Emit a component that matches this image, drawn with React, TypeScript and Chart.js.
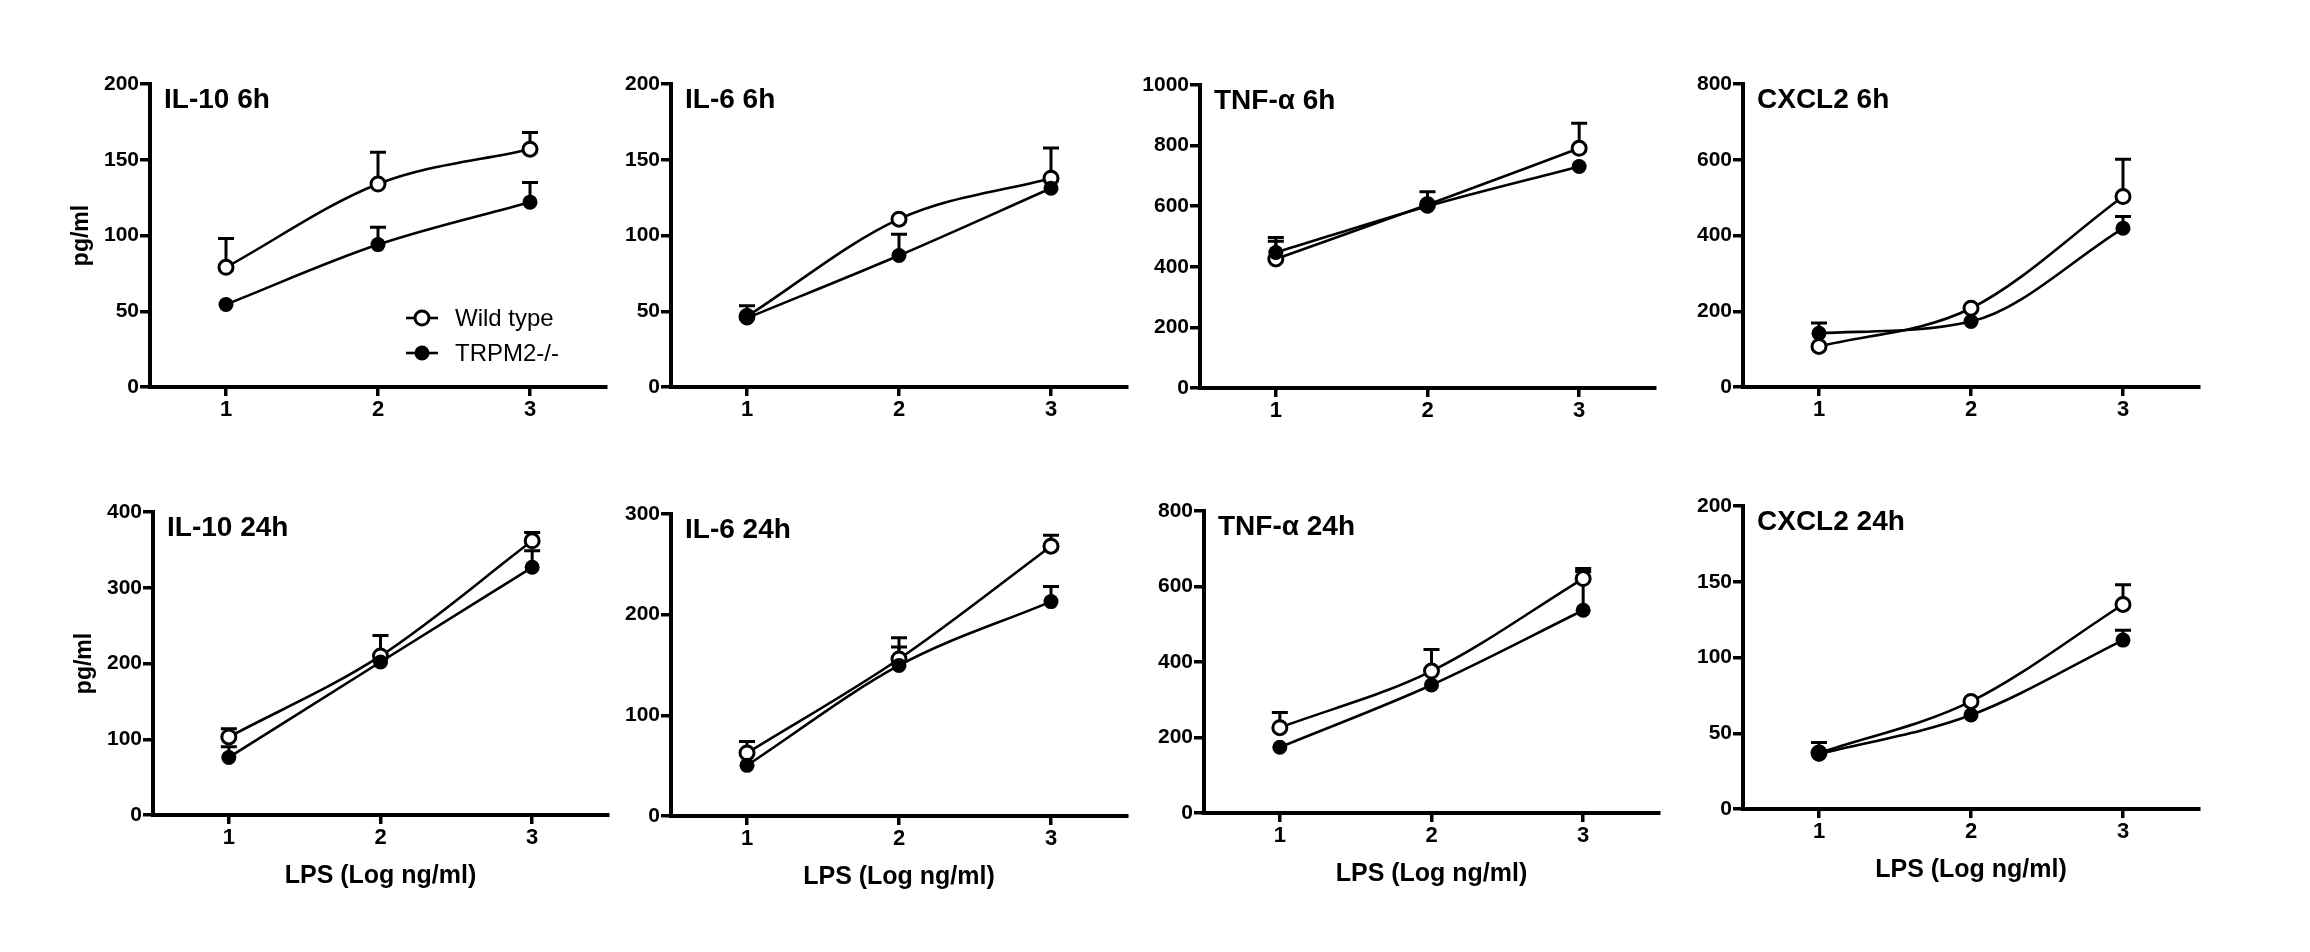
import React, { useEffect, useRef } from "react";
import { Chart, registerables } from "chart.js";

Chart.register(...registerables);

const FONT = "'Liberation Sans', Arial, Helvetica, sans-serif";

// LPS dose (log ng/ml)
const doses = [1, 2, 3];
const seriesNames = ["Wild type", "TRPM2-/-"];
const panelTitles = [
  "IL-10 6h", "IL-6 6h", "TNF-α 6h", "CXCL2 6h",
  "IL-10 24h", "IL-6 24h", "TNF-α 24h", "CXCL2 24h",
];
const yAxisTitle = "pg/ml";
const xAxisTitle = "LPS (Log ng/ml)";
const yMaxes = [200, 200, 1000, 800, 400, 300, 800, 200];
const ySteps = [50, 50, 200, 200, 100, 100, 200, 50];

// Wild type means and upper error (SEM)
const il10_6h_wt = [79, 134, 157];
const il10_6h_wtErr = [19, 21, 11];
const il6_6h_wt = [46.6, 110.8, 137.8];
const il6_6h_wtErr = [7, 3, 20];
const tnf_6h_wt = [426, 605, 791];
const tnf_6h_wtErr = [58, 10, 83];
const cxcl2_6h_wt = [107, 208, 503];
const cxcl2_6h_wtErr = [8, 8, 98];
const il10_24h_wt = [103, 210, 362];
const il10_24h_wtErr = [11, 27, 11];
const il6_24h_wt = [62.6, 156, 268];
const il6_24h_wtErr = [11.4, 21, 11];
const tnf_24h_wt = [226, 376, 621];
const tnf_24h_wtErr = [40, 57, 27];
const cxcl2_24h_wt = [36.9, 71, 135];
const cxcl2_24h_wtErr = [7, 4, 13];

// TRPM2-/- means and upper error (SEM)
const il10_6h_ko = [54.5, 94, 122];
const il10_6h_koErr = [2, 11.5, 13];
const il6_6h_ko = [45.5, 86.8, 131.2];
const il6_6h_koErr = [3, 14, 3];
const tnf_6h_ko = [447, 600, 731];
const tnf_6h_koErr = [50, 48, 10];
const cxcl2_6h_ko = [142, 173, 419];
const cxcl2_6h_koErr = [27, 8, 31];
const il10_24h_ko = [76, 202, 327];
const il10_24h_koErr = [14, 5, 22];
const il6_24h_ko = [50.3, 149.6, 213];
const il6_24h_koErr = [4, 18.4, 15];
const tnf_24h_ko = [174, 339, 537];
const tnf_24h_koErr = [8, 10, 103];
const cxcl2_24h_ko = [36.2, 62, 111.5];
const cxcl2_24h_koErr = [2, 2, 6.5];

const wtSeries = [il10_6h_wt, il6_6h_wt, tnf_6h_wt, cxcl2_6h_wt, il10_24h_wt, il6_24h_wt, tnf_24h_wt, cxcl2_24h_wt];
const wtErrors = [il10_6h_wtErr, il6_6h_wtErr, tnf_6h_wtErr, cxcl2_6h_wtErr, il10_24h_wtErr, il6_24h_wtErr, tnf_24h_wtErr, cxcl2_24h_wtErr];
const koSeries = [il10_6h_ko, il6_6h_ko, tnf_6h_ko, cxcl2_6h_ko, il10_24h_ko, il6_24h_ko, tnf_24h_ko, cxcl2_24h_ko];
const koErrors = [il10_6h_koErr, il6_6h_koErr, tnf_6h_koErr, cxcl2_6h_koErr, il10_24h_koErr, il6_24h_koErr, tnf_24h_koErr, cxcl2_24h_koErr];

// layout: plot-area boxes on the page (left, top, width, height)
const boxes = [
  { l: 150, t: 84, w: 456, h: 303 },
  { l: 671, t: 84, w: 456, h: 303 },
  { l: 1200, t: 85, w: 455, h: 303 },
  { l: 1743, t: 84, w: 456, h: 303 },
  { l: 153, t: 512, w: 455, h: 303 },
  { l: 671, t: 514, w: 456, h: 302 },
  { l: 1204, t: 511, w: 455, h: 302 },
  { l: 1743, t: 506, w: 456, h: 303 },
];

const PADL = 120;
const PADT = 30;
const PADR = 20;
const PADB = 100;

function drawMarker(ctx: CanvasRenderingContext2D, x: number, y: number, open: boolean) {
  ctx.beginPath();
  ctx.arc(x, y, open ? 7 : 7.5, 0, Math.PI * 2);
  if (open) {
    ctx.fillStyle = "#fff";
    ctx.fill();
    ctx.lineWidth = 3;
    ctx.strokeStyle = "#000";
    ctx.stroke();
  } else {
    ctx.fillStyle = "#000";
    ctx.fill();
  }
}

function makeDecor(idx: number) {
  return {
    id: "panelDecor" + idx,
    beforeDatasetsDraw(chart: any) {
      const ctx = chart.ctx as CanvasRenderingContext2D;
      const ys = chart.scales.y;
      ctx.save();
      ctx.strokeStyle = "#000";
      ctx.lineWidth = 3;
      ctx.lineCap = "butt";
      chart.data.datasets.forEach((ds: any, di: number) => {
        const meta = chart.getDatasetMeta(di);
        meta.data.forEach((pt: any, j: number) => {
          const v = ds.data[j].y;
          const e = ds.errors[j];
          const y0 = pt.y;
          const y1 = ys.getPixelForValue(v + e);
          if (y0 - y1 < 7.5) return;
          ctx.beginPath();
          ctx.moveTo(pt.x, y0);
          ctx.lineTo(pt.x, y1);
          ctx.moveTo(pt.x - 8, y1);
          ctx.lineTo(pt.x + 8, y1);
          ctx.stroke();
        });
      });
      ctx.restore();
    },
    afterDraw(chart: any) {
      const ctx = chart.ctx as CanvasRenderingContext2D;
      const a = chart.chartArea;
      ctx.save();
      ctx.fillStyle = "#000";
      ctx.font = `bold 28px ${FONT}`;
      ctx.textAlign = "left";
      ctx.textBaseline = "alphabetic";
      ctx.fillText(panelTitles[idx], a.left + 14, a.top + 24);

      if (idx % 4 === 0) {
        ctx.save();
        ctx.translate(a.left - 68, (a.top + a.bottom) / 2);
        ctx.rotate(-Math.PI / 2);
        ctx.font = `bold 23px ${FONT}`;
        ctx.textAlign = "center";
        ctx.textBaseline = "middle";
        ctx.fillText(yAxisTitle, 0, 0);
        ctx.restore();
      }
      if (idx >= 4) {
        ctx.font = `bold 25px ${FONT}`;
        ctx.textAlign = "center";
        ctx.textBaseline = "alphabetic";
        ctx.fillText(xAxisTitle, (a.left + a.right) / 2, a.bottom + 68);
      }
      if (idx === 0) {
        const rows = [
          { y: a.top + 234, open: true, name: seriesNames[0] },
          { y: a.top + 269, open: false, name: seriesNames[1] },
        ];
        rows.forEach((r) => {
          ctx.beginPath();
          ctx.strokeStyle = "#000";
          ctx.lineWidth = 2.6;
          ctx.moveTo(a.left + 256, r.y);
          ctx.lineTo(a.left + 288, r.y);
          ctx.stroke();
          drawMarker(ctx, a.left + 272, r.y, r.open);
          ctx.fillStyle = "#000";
          ctx.font = `24px ${FONT}`;
          ctx.textAlign = "left";
          ctx.textBaseline = "middle";
          ctx.fillText(r.name, a.left + 305, r.y + 1);
        });
      }
      ctx.restore();
    },
  };
}

function Panel({ idx }: { idx: number }) {
  const ref = useRef<HTMLCanvasElement>(null);
  const box = boxes[idx];
  useEffect(() => {
    const yTickFont = { family: FONT, size: 21, weight: "bold" as const };
    const xTickFont = { family: FONT, size: 22, weight: "bold" as const };
    const chart = new Chart(ref.current as HTMLCanvasElement, {
      type: "line",
      data: {
        datasets: [
          {
            label: seriesNames[1],
            data: doses.map((x, i) => ({ x, y: koSeries[idx][i] })),
            errors: koErrors[idx],
            borderColor: "#000",
            borderWidth: 2.6,
            pointRadius: 7.5,
            pointBackgroundColor: "#000",
            pointBorderColor: "#000",
            pointBorderWidth: 0,
            cubicInterpolationMode: "monotone",
            fill: false,
            clip: false,
          } as any,
          {
            label: seriesNames[0],
            data: doses.map((x, i) => ({ x, y: wtSeries[idx][i] })),
            errors: wtErrors[idx],
            borderColor: "#000",
            borderWidth: 2.6,
            pointRadius: 7,
            pointBackgroundColor: "#fff",
            pointBorderColor: "#000",
            pointBorderWidth: 3,
            cubicInterpolationMode: "monotone",
            fill: false,
            clip: false,
          } as any,
        ],
      },
      options: {
        animation: false,
        responsive: false,
        devicePixelRatio: 1,
        layout: { padding: { left: 0, top: PADT, right: PADR, bottom: 0 } },
        plugins: {
          legend: { display: false },
          tooltip: { enabled: false },
          title: { display: false },
        },
        scales: {
          x: {
            type: "linear",
            min: 0.5,
            max: 3.5,
            afterBuildTicks: (s: any) => {
              s.ticks = doses.map((v) => ({ value: v }));
            },
            afterFit: (s: any) => {
              s.height = PADB;
            },
            grid: {
              drawOnChartArea: false,
              drawTicks: true,
              tickLength: 9,
              lineWidth: 3.5,
              color: "#000",
            },
            border: { display: true, width: 4, color: "#000" },
            ticks: {
              color: "#000",
              font: xTickFont,
              padding: 1,
              maxRotation: 0,
              callback: (v: any) => String(v),
            },
          },
          y: {
            type: "linear",
            min: 0,
            max: yMaxes[idx],
            afterFit: (s: any) => {
              s.width = PADL;
            },
            grid: {
              drawOnChartArea: false,
              drawTicks: true,
              tickLength: 10,
              lineWidth: 3.5,
              color: "#000",
            },
            border: { display: true, width: 4, color: "#000" },
            ticks: {
              stepSize: ySteps[idx],
              color: "#000",
              font: yTickFont,
              padding: 1,
              callback: (v: any) => String(v),
            },
          },
        },
      } as any,
      plugins: [makeDecor(idx)],
    });
    return () => chart.destroy();
  }, [idx]);
  return (
    <canvas
      ref={ref}
      width={box.w + PADL + PADR}
      height={box.h + PADT + PADB}
      style={{
        position: "absolute",
        left: box.l - PADL,
        top: box.t - PADT,
        width: box.w + PADL + PADR,
        height: box.h + PADT + PADB,
      }}
    />
  );
}

export default function App() {
  return (
    <div
      style={{
        position: "fixed",
        left: 0,
        top: 0,
        width: 2310,
        height: 952,
        background: "#fff",
        overflow: "hidden",
      }}
    >
      {boxes.map((_, i) => (
        <Panel key={i} idx={i} />
      ))}
    </div>
  );
}
